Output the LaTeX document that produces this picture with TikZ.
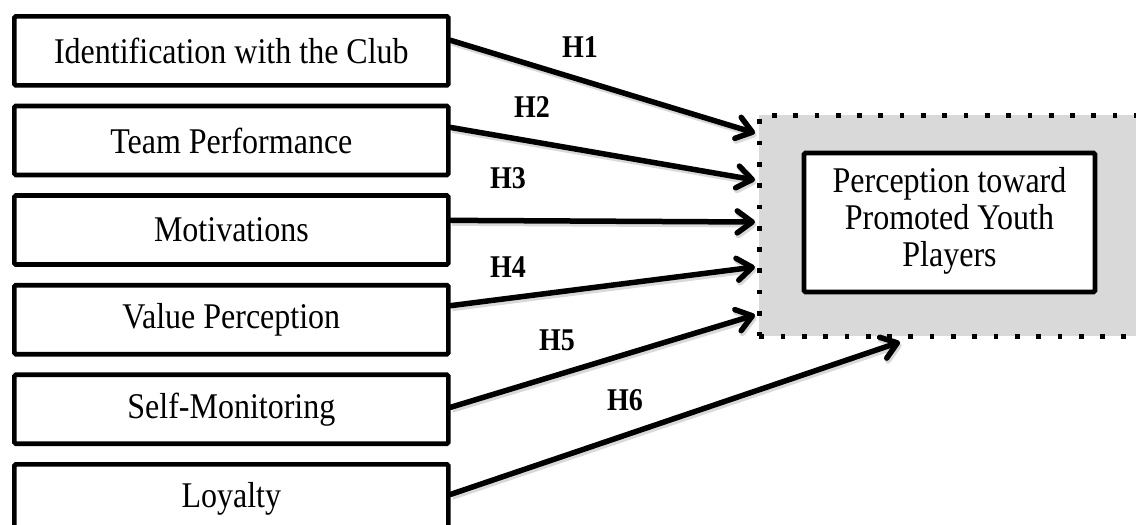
\documentclass[tikz,border=0pt]{standalone}
\usepackage{fontspec}
\setmainfont{Liberation Serif}
\usetikzlibrary{arrows.meta}
\definecolor{panelgray}{RGB}{217,217,217}
\newcommand{\talltext}[1]{\scalebox{1}[1.13]{#1}}
\begin{document}
\begin{tikzpicture}[x=1pt,y=-1pt,
  varbox/.style={draw, line width=4.7pt, rounded corners=1.5pt, minimum width=434pt, minimum height=69pt, inner sep=0pt, font=\fontsize{32}{37}\selectfont, anchor=north west},
  hyp/.style={font=\fontsize{28}{32}\selectfont\bfseries},
  link/.style={line width=5.5pt, line cap=round, -{Straight Barb[length=15pt,width=22pt,line cap=round,line join=round]},
    preaction={draw=black!25, line width=6pt, opacity=0.6, transform canvas={shift={(1.5pt,-2.5pt)}}}},
  outerbox/.style={fill=panelgray, draw=black, line width=4.7pt, dash pattern=on 4.7pt off 16.6pt, inner sep=0pt, anchor=north west},
  dvbox/.style={draw, fill=white, line width=4.7pt, rounded corners=1.5pt, minimum width=291pt, minimum height=139pt, inner sep=0pt, align=center, font=\fontsize{32}{32.7}\selectfont},
]
\clip (0,0) rectangle (1136,525);
% independent variables
\node[varbox] (b1) at (12,14) {\talltext{Identification with the Club}};
\node[varbox] (b2) at (12,103.6) {\talltext{Team Performance}};
\node[varbox] (b3) at (12,193.2) {\talltext{Motivations}};
\node[varbox] (b4) at (12,282.8) {\talltext{Value Perception}};
\node[varbox] (b5) at (12,372.4) {\talltext{Self-Monitoring}};
\node[varbox] (b6) at (12,462) {\talltext{Loyalty}};
% dependent variable
\node[outerbox, minimum width=420pt, minimum height=221pt] (outer) at (757,113) {};
\node[dvbox] (dv) at (949.5,222.5) {\talltext{\begin{tabular}{@{}c@{}}Perception toward\\Promoted Youth\\Players\end{tabular}}};
% arrow ends
\coordinate (e1) at (755,133);
\coordinate (e2) at (755,180);
\coordinate (e3) at (755,222);
\coordinate (e4) at (755,267);
\coordinate (e5) at (755,315);
\coordinate (e6) at (900,342);
\draw[link] ([yshift=10.5pt]b1.east) -- (e1);
\draw[link] ([yshift=13pt]b2.east) -- (e2);
\draw[link] ([yshift=9.7pt]b3.east) -- (e3);
\draw[link] ([yshift=14pt]b4.east) -- (e4);
\draw[link] ([yshift=2pt]b5.east) -- (e5);
\draw[link] ([yshift=4.5pt]b6.east) -- (e6);
% labels
\node[hyp] (h1) at (580,47) {\talltext{H1}};
\node[hyp] (h2) at (532,107) {\talltext{H2}};
\node[hyp] (h3) at (508,178) {\talltext{H3}};
\node[hyp] (h4) at (508,267) {\talltext{H4}};
\node[hyp] (h5) at (557,340) {\talltext{H5}};
\node[hyp] (h6) at (625,400) {\talltext{H6}};
\end{tikzpicture}
\end{document}
